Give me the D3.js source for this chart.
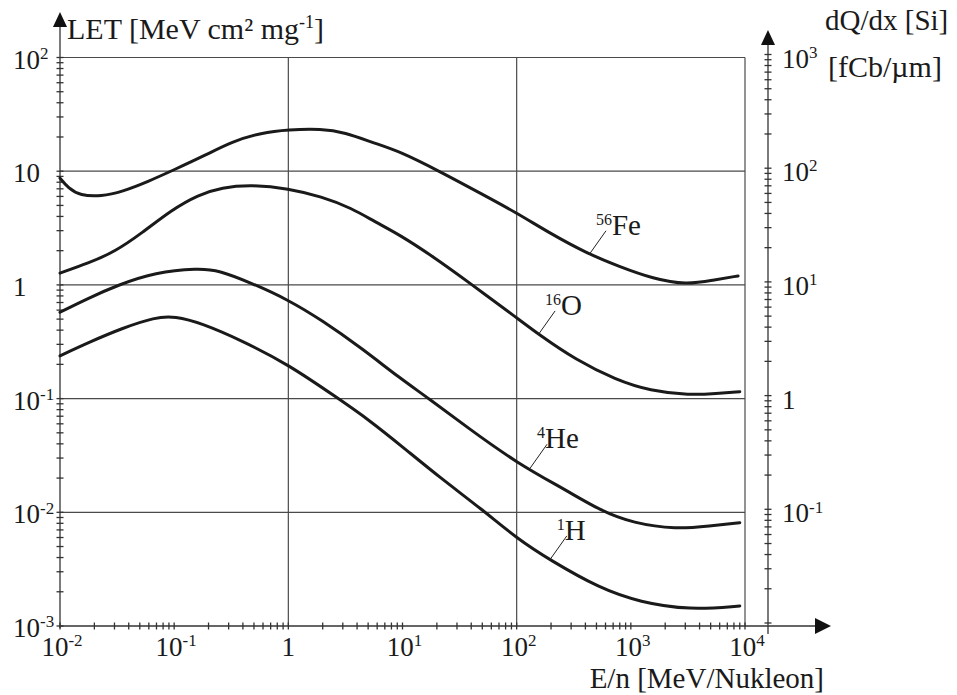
<!DOCTYPE html>
<html lang="de">
<head>
<meta charset="UTF-8">
<title>LET vs. Energie</title>
<script src="https://d3js.org/d3.v7.min.js"></script>
<style>
    body { margin: 0; background: #fff; }
    svg text { font-family: "Liberation Serif", "Times New Roman", serif; fill: #1a1a1a; }
    .curve { fill: none; stroke: #1a1a1a; stroke-width: 3; stroke-linejoin: round; stroke-linecap: round; }
    .grid { stroke: #4a4a4a; stroke-width: 1.2; }
    .axis { stroke: #333; stroke-width: 1.3; }
</style>
</head>
<body>
<div id="chart"></div>
<script>
// energy per nucleon [MeV/Nukleon] and LET [MeV cm2 mg-1]
const feE   = [0.01, 0.0118, 0.015, 0.023, 0.035, 0.059, 0.10, 0.19, 0.32, 0.58, 1.0, 1.95, 3.1, 5.7, 9.5, 21, 51, 100, 195, 410, 790, 1570, 3070, 5250, 8700];
const feLET = [8.7, 7.1, 6.1, 6.0, 6.6, 8.1, 10.3, 13.9, 18.2, 21.8, 23.2, 23.6, 22.0, 17.6, 14.9, 10.0, 6.2, 4.3, 2.85, 1.9, 1.45, 1.13, 1.0, 1.1, 1.2];

const oE   = [0.01, 0.0177, 0.0303, 0.052, 0.095, 0.163, 0.26, 0.48, 1.0, 1.95, 3.6, 5.7, 9.5, 18.6, 39, 101, 158, 330, 740, 1470, 3290, 5620, 9000];
const oLET = [1.27, 1.55, 1.96, 2.85, 4.57, 6.2, 7.2, 7.6, 7.05, 5.98, 4.73, 3.6, 2.75, 1.77, 1.035, 0.51, 0.363, 0.219, 0.146, 0.117, 0.107, 0.111, 0.115];

const heE   = [0.01, 0.0177, 0.0324, 0.068, 0.163, 0.243, 0.48, 1.0, 1.95, 4.4, 9.5, 16.8, 36, 101, 273, 535, 1050, 2510, 4900, 9000];
const heLET = [0.575, 0.764, 1.0, 1.29, 1.4, 1.35, 1.035, 0.738, 0.492, 0.277, 0.151, 0.101, 0.0568, 0.027, 0.0156, 0.0104, 0.0080, 0.0071, 0.0076, 0.0081];

const hE   = [0.01, 0.0177, 0.035, 0.068, 0.1016, 0.174, 0.39, 1.0, 2.74, 5.0, 10.5, 21, 51, 101, 195, 535, 1200, 3290, 9000];
const hLET = [0.238, 0.311, 0.416, 0.52, 0.53, 0.46, 0.324, 0.2, 0.1, 0.0659, 0.0362, 0.0204, 0.0104, 0.00586, 0.00381, 0.00214, 0.00162, 0.00138, 0.0015];

// curve labels: mass number, element, point on the curve where the pointer ends
const isoMass  = ["56", "16", "4", "1"];
const isoName  = ["Fe", "O", "He", "H"];
const isoE     = [430, 154, 131, 195];
const isoLET   = [1.84, 0.363, 0.0244, 0.00381];

// tick labels: [base, superscript]
const xTickLabels = [["10", "-2"], ["10", "-1"], ["1", ""], ["10", "1"], ["10", "2"], ["10", "3"], ["10", "4"]];
const xTickVals   = [1e-2, 1e-1, 1, 1e1, 1e2, 1e3, 1e4];
const yTickLabels = [["10", "-3"], ["10", "-2"], ["10", "-1"], ["1", ""], ["10", ""], ["10", "2"]];
const yTickVals   = [1e-3, 1e-2, 1e-1, 1, 1e1, 1e2];
const rTickLabels = [["10", "-1"], ["1", ""], ["10", "1"], ["10", "2"], ["10", "3"]];
const rTickVals   = [1e-1, 1, 1e1, 1e2, 1e3];

const width = 957, height = 695;
const svg = d3.select("#chart").append("svg")
    .attr("width", width)
    .attr("height", height);

const x = d3.scaleLog().domain([1e-2, 1e4]).range([60, 745]);
const y = d3.scaleLog().domain([1e-3, 1e2]).range([626, 57.5]);
// right axis: dQ/dx in Si, drawn a touch higher than the grid as in the original
const yR = d3.scaleLog().domain([1e-2, 1e3]).range([623, 54.5]);

// grid
svg.append("g").selectAll("line")
    .data([1e-2, 1e-1, 1, 1e1, 1e2])
    .join("line")
    .attr("class", "grid")
    .attr("x1", x(1e-2)).attr("x2", x(1e4))
    .attr("y1", d => y(d)).attr("y2", d => y(d));

svg.append("g").selectAll("line")
    .data([1, 1e2, 1e4])
    .join("line")
    .attr("class", "grid")
    .attr("x1", d => x(d)).attr("x2", d => x(d))
    .attr("y1", y(1e2)).attr("y2", y(1e-3));

// axes lines
const xAxisEnd = 831;
svg.append("line").attr("class", "axis")
    .attr("x1", x(1e-2)).attr("x2", xAxisEnd - 12)
    .attr("y1", y(1e-3)).attr("y2", y(1e-3));
svg.append("path")
    .attr("d", `M${xAxisEnd},${y(1e-3)} L${xAxisEnd - 16},${y(1e-3) - 8} L${xAxisEnd - 16},${y(1e-3) + 8} Z`)
    .attr("fill", "#111");

svg.append("line").attr("class", "axis")
    .attr("x1", x(1e-2)).attr("x2", x(1e-2))
    .attr("y1", y(1e-3) + 2).attr("y2", 22);
svg.append("path")
    .attr("d", `M${x(1e-2)},12 L${x(1e-2) - 7},27 L${x(1e-2) + 7},27 Z`)
    .attr("fill", "#111");

const rx = 768;
svg.append("line").attr("class", "axis")
    .attr("x1", rx).attr("x2", rx)
    .attr("y1", y(1e-3) + 8).attr("y2", 40);
svg.append("path")
    .attr("d", `M${rx},30 L${rx - 7},45 L${rx + 7},45 Z`)
    .attr("fill", "#111");

// ticks crossing the axis lines
const tk = 3.5;
svg.append("g").selectAll("line")
    .data(x.ticks())
    .join("line").attr("class", "axis")
    .attr("x1", d => x(d)).attr("x2", d => x(d))
    .attr("y1", y(1e-3) - tk).attr("y2", y(1e-3) + tk);

svg.append("g").selectAll("line")
    .data(y.ticks())
    .join("line").attr("class", "axis")
    .attr("x1", x(1e-2) - tk).attr("x2", x(1e-2) + tk)
    .attr("y1", d => y(d)).attr("y2", d => y(d));

svg.append("g").selectAll("line")
    .data(yR.ticks())
    .join("line").attr("class", "axis")
    .attr("x1", rx - tk).attr("x2", rx + tk)
    .attr("y1", d => yR(d)).attr("y2", d => yR(d));

// power-of-ten label with a small raised exponent
function powLabel(sel, base, sup, size, supSize) {
    sel.append("tspan").attr("font-size", size).text(base);
    if (sup) {
        sel.append("tspan").attr("font-size", supSize).attr("dy", -size * 0.36).text(sup);
    }
}

xTickVals.forEach((v, i) => {
    const t = svg.append("text")
        .attr("x", x(v) + (xTickLabels[i][1] ? 2 : 0))
        .attr("y", 656)
        .attr("text-anchor", "middle");
    powLabel(t, xTickLabels[i][0], xTickLabels[i][1], 27, 17);
});

yTickVals.forEach((v, i) => {
    const t = svg.append("text")
        .attr("x", 13)
        .attr("y", y(v) + 11)
        .attr("text-anchor", "start");
    powLabel(t, yTickLabels[i][0], yTickLabels[i][1], 27, 17);
});

rTickVals.forEach((v, i) => {
    const t = svg.append("text")
        .attr("x", 782)
        .attr("y", yR(v) + 13)
        .attr("text-anchor", "start");
    powLabel(t, rTickLabels[i][0], rTickLabels[i][1], 27, 17);
});

// axis titles
const letTitle = svg.append("text").attr("x", 67).attr("y", 39).attr("font-size", 30);
letTitle.append("tspan").text("LET [MeV cm² mg");
letTitle.append("tspan").attr("font-size", 18).attr("dy", -11).text("-1");
letTitle.append("tspan").attr("dy", 11).text("]");

svg.append("text").attr("x", 824).attr("y", 688).attr("font-size", 29)
    .attr("text-anchor", "end").text("E/n [MeV/Nukleon]");

svg.append("text").attr("x", 825).attr("y", 30).attr("font-size", 29).text("dQ/dx [Si]");
svg.append("text").attr("x", 828).attr("y", 77).attr("font-size", 30).text("[fCb/µm]");

// curves
const line = d3.line()
    .x(d => x(d[0]))
    .y(d => y(d[1]))
    .curve(d3.curveBasis);

[[feE, feLET], [oE, oLET], [heE, heLET], [hE, hLET]].forEach(([es, lets]) => {
    svg.append("path")
        .datum(d3.zip(es, lets))
        .attr("class", "curve")
        .attr("d", line);
});

// curve labels with pointer lines
isoName.forEach((name, i) => {
    const px = x(isoE[i]), py = y(isoLET[i]);
    svg.append("line")
        .attr("x1", px).attr("y1", py)
        .attr("x2", px + 17).attr("y2", py - 24)
        .attr("stroke", "#222").attr("stroke-width", 1);
    const t = svg.append("text").attr("x", px + 7).attr("y", py - 20);
    t.append("tspan").attr("font-size", 16).attr("dy", -10).text(isoMass[i]);
    t.append("tspan").attr("font-size", 29).attr("dy", 10).text(name);
});
</script>
</body>
</html>
